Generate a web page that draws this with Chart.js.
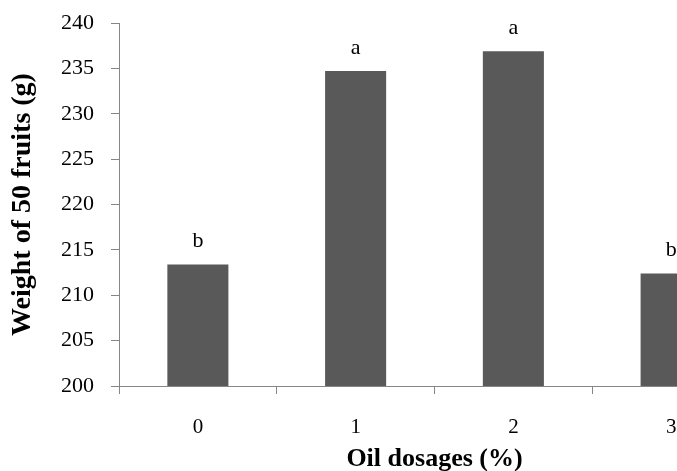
<!DOCTYPE html>
<html>
<head>
<meta charset="utf-8">
<script src="https://cdn.jsdelivr.net/npm/chart.js@4/dist/chart.umd.min.js"></script>
<style>
  html, body { margin: 0; padding: 0; background: #fff; overflow: hidden; width: 677px; height: 471px; }
  #wrap { position: relative; width: 770px; height: 471px; }
</style>
</head>
<body>
<div id="wrap"><canvas id="weightChart"></canvas></div>
<script>
// Chart data
const dosages = ['0', '1', '2', '3'];
const weights = [213.4, 234.7, 236.9, 212.4];
const letters = ['b', 'a', 'a', 'b'];
const yTicks = [200, 205, 210, 215, 220, 225, 230, 235, 240];

const serif = '"Liberation Serif", "Times New Roman", serif';
const axisGray = '#868686';

// Draw significance letters above each bar
const letterPlugin = {
  id: 'letters',
  afterDatasetsDraw: (chart) => {
    const ctx = chart.ctx;
    const bars = chart.getDatasetMeta(0).data;
    ctx.save();
    ctx.font = '22px ' + serif;
    ctx.fillStyle = '#000';
    ctx.textAlign = 'center';
    ctx.textBaseline = 'alphabetic';
    bars.forEach((bar, i) => {
      ctx.fillText(letters[i], bar.x, bar.y - 17);
    });
    ctx.restore();
  }
};

const ctx = document.getElementById('weightChart').getContext('2d');

new Chart(ctx, {
  type: 'bar',
  data: {
    labels: dosages,
    datasets: [{
      data: weights,
      backgroundColor: '#595959',
      borderWidth: 0,
      barPercentage: 0.387,
      categoryPercentage: 1
    }]
  },
  options: {
    responsive: true,
    maintainAspectRatio: false,
    animation: false,
    layout: { padding: { top: 23, right: 20, bottom: 0, left: 0 } },
    plugins: {
      legend: { display: false },
      tooltip: { enabled: false }
    },
    scales: {
      x: {
        grid: { drawOnChartArea: false, drawTicks: true, tickLength: 8, color: axisGray },
        border: { color: axisGray },
        ticks: { color: '#000', padding: 21, font: { family: serif, size: 21 } },
        title: {
          display: true,
          text: 'Oil dosages (%)',
          color: '#000',
          padding: { top: 0, bottom: -4 },
          font: { family: serif, size: 26, weight: 'bold' }
        },
        afterFit: (scale) => { scale.height = 85; }
      },
      y: {
        min: 200,
        max: 240,
        afterBuildTicks: (scale) => {
          scale.ticks = yTicks.map(v => ({ value: v }));
        },
        grid: { drawOnChartArea: false, drawTicks: true, tickLength: 8, color: axisGray },
        border: { color: axisGray },
        ticks: { color: '#000', padding: 17, font: { family: serif, size: 22 } },
        title: {
          display: true,
          text: 'Weight of 50 fruits (g)',
          color: '#000',
          padding: { top: 6, bottom: 0 },
          font: { family: serif, size: 28, weight: 'bold' }
        },
        afterFit: (scale) => {
          // keep the plot top at the layout padding
          scale.width = 119;
          scale.paddingTop = 0;
          scale.paddingBottom = 0;
        }
      }
    }
  },
  plugins: [letterPlugin]
});
</script>
</body>
</html>
